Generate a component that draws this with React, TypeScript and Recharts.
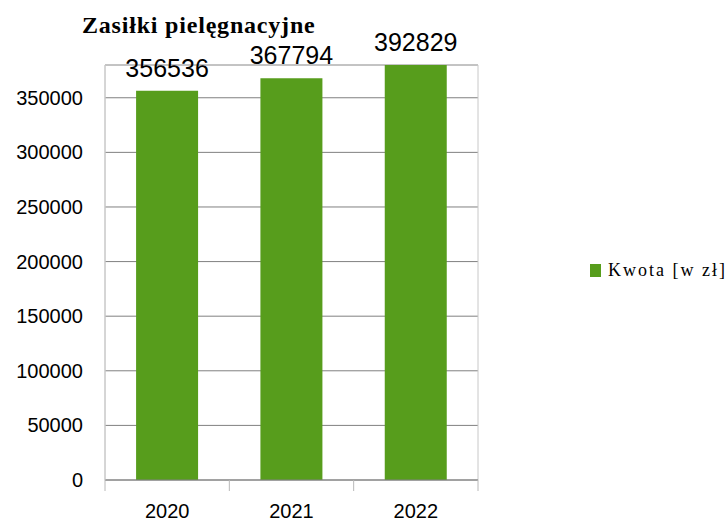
import { BarChart, Bar, XAxis, YAxis, CartesianGrid, ReferenceArea, Legend, LabelList } from 'recharts';

const years = ['2020', '2021', '2022'];
const amounts = [356536, 367794, 392829];
const yTicks = [0, 50000, 100000, 150000, 200000, 250000, 300000, 350000];
const yMax = 380000;

const GREEN = '#579d1c';
const SANS = '"Liberation Sans", Arial, sans-serif';
const SERIF = '"Liberation Serif", "Times New Roman", serif';
const MARGIN = { top: 65, right: 249, bottom: 40, left: 0 };
const X_TICK_GAP = 24;

const data = years.map((year, i) => ({ year, kwota: amounts[i] }));

// value labels sit above the visible (clipped) top of each bar
const renderValue = (props: any) => {
  const { viewBox, value } = props;
  const top = Math.max(viewBox.y, MARGIN.top);
  return (
    <text
      x={viewBox.x + viewBox.width / 2}
      y={top - 14}
      textAnchor="middle"
      fontSize={25}
      fontFamily={SANS}
      fill="#000"
    >
      {value}
    </text>
  );
};

// category label plus tick marks on the band edges
const YearTick = (props: any) => {
  const { x, y, payload, index, visibleTicksCount } = props;
  const half = payload?.offset || (727 - 105 - MARGIN.right) / years.length / 2;
  const axisY = y - X_TICK_GAP;
  const isLast = index === visibleTicksCount - 1;
  return (
    <g>
      <line x1={x - half} x2={x - half} y1={axisY} y2={axisY + 11} stroke="#b8b8b8" />
      {isLast && <line x1={x + half} x2={x + half} y1={axisY} y2={axisY + 11} stroke="#b8b8b8" />}
      <text x={x} y={y} dy="0.71em" textAnchor="middle" fontSize={20} fontFamily={SANS} fill="#000">
        {payload.value}
      </text>
    </g>
  );
};

const renderLegend = (props: any) => {
  const item = props.payload?.[0];
  return (
    <div
      style={{
        display: 'flex',
        alignItems: 'center',
        fontFamily: SERIF,
        fontSize: 18,
        lineHeight: '22px',
        letterSpacing: 2,
        color: '#000',
        whiteSpace: 'nowrap',
      }}
    >
      <span style={{ display: 'inline-block', width: 13, height: 13, background: GREEN, marginRight: 7 }} />
      <span>{item?.value}</span>
    </div>
  );
};

export default function App() {
  return (
    <div style={{ position: 'absolute', left: 0, top: 0, width: 727, height: 521, background: '#fff' }}>
      <div
        style={{
          position: 'absolute',
          left: 82,
          top: 14,
          fontFamily: SERIF,
          fontWeight: 'bold',
          fontSize: 24,
          lineHeight: '22px',
          letterSpacing: 0.8,
          whiteSpace: 'nowrap',
        }}
      >
        Zasiłki pielęgnacyjne
      </div>
      <BarChart width={727} height={521} data={data} margin={MARGIN} barCategoryGap="25%">
        <ReferenceArea y1={0} y2={yMax} stroke="#c8c8c8" fill="none" fillOpacity={0} />
        <CartesianGrid vertical={false} stroke="#808080" />
        <XAxis
          dataKey="year"
          height={1}
          axisLine={{ stroke: '#808080' }}
          tickLine={false}
          tickSize={0}
          tickMargin={X_TICK_GAP}
          tick={<YearTick />}
          interval={0}
        />
        <YAxis
          width={105}
          domain={[0, yMax]}
          allowDataOverflow
          ticks={yTicks}
          interval={0}
          axisLine={{ stroke: '#c8c8c8' }}
          tickLine={false}
          tickSize={0}
          tickMargin={22}
          tick={{ fontSize: 20, fill: '#000', fontFamily: SANS }}
        />
        <Legend
          layout="horizontal"
          align="center"
          verticalAlign="middle"
          content={renderLegend}
          wrapperStyle={{ left: 590, top: 259, width: 137 }}
        />
        <Bar dataKey="kwota" name="Kwota [w zł]" fill={GREEN} isAnimationActive={false}>
          <LabelList dataKey="kwota" content={renderValue} />
        </Bar>
      </BarChart>
    </div>
  );
}
